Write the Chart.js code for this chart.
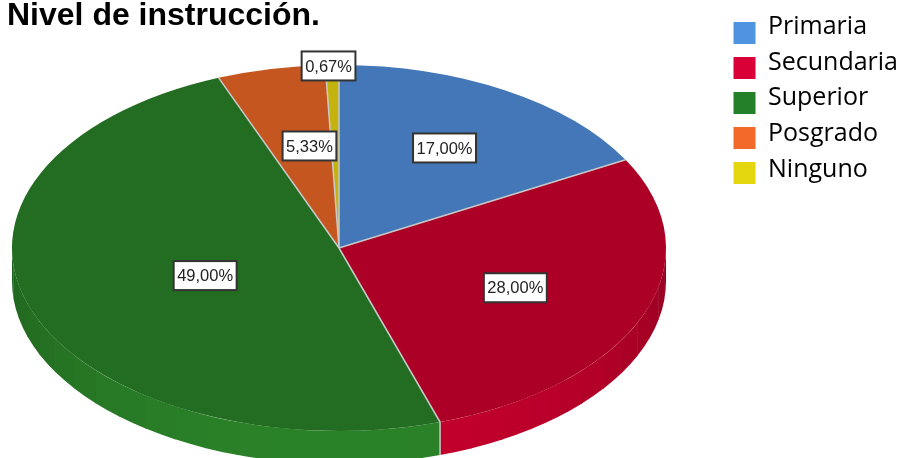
<!DOCTYPE html>
<html>
<head>
<meta charset="utf-8">
<style>
  html, body { margin: 0; padding: 0; background: #fff; overflow: hidden; }
  canvas { display: block; }
</style>
<script src="https://cdn.jsdelivr.net/npm/chart.js@4"></script>
</head>
<body>
<canvas id="myChart" width="902" height="458"></canvas>
<script>
const categories = ["Primaria", "Secundaria", "Superior", "Posgrado", "Ninguno"];
const percents = [17.00, 28.00, 49.00, 5.33, 0.67];
const valueLabels = ["17,00%", "28,00%", "49,00%", "5,33%", "0,67%"];

const topColors = ["#4477b8", "#ac0026", "#236d22", "#c55620", "#c4b30f"];
const wallColors = ["#4a82c8", "#c4002c", "#2a8228", "#d65f24", "#d0be10"];
const legendColors = ["#4f94e0", "#d80036", "#24812a", "#f2692a", "#e4d60f"];

// the pie is squashed into an ellipse, chart.js only knows circles
const pie = { x: 339, y: 248, rx: 327, ry: 183, depth: 33 };
// label distance from centre, as a share of the radius (x, y)
const labelPlaces = [[0.634, 0.635], [0.58, 0.59], [0.435, 0.445], [0.434, 0.57], [1.52, 0.995]];

function shade(hex, f) {
  const n = parseInt(hex.slice(1), 16);
  const r = Math.round((n >> 16 & 255) * f);
  const g = Math.round((n >> 8 & 255) * f);
  const b = Math.round((n & 255) * f);
  return "rgb(" + r + "," + g + "," + b + ")";
}

const tiltedPie = {
  id: "tiltedPie",
  beforeDatasetsDraw(chart) {
    const ctx = chart.ctx;
    const arcs = chart.getDatasetMeta(0).data;
    // side wall, cut in small facets like the original
    const step = Math.PI / 30;
    arcs.forEach((arc, i) => {
      const from = Math.max(arc.startAngle, 0);
      const to = Math.min(arc.endAngle, Math.PI);
      for (let a = from; a < to; a += step) {
        const b = Math.min(a + step, to);
        const mid = (a + b) / 2;
        ctx.fillStyle = shade(wallColors[i], 0.76 + 0.24 * Math.sin(mid));
        ctx.beginPath();
        // a little overlap so no seam shows between facets
        ctx.ellipse(pie.x, pie.y, pie.rx, pie.ry, 0, a, Math.min(b + 0.004, to));
        ctx.ellipse(pie.x, pie.y + pie.depth, pie.rx, pie.ry, 0, Math.min(b + 0.004, to), a, true);
        ctx.closePath();
        ctx.fill();
      }
    });
    const arc = arcs[0];
    ctx.save();
    ctx.translate(pie.x, pie.y);
    ctx.scale(pie.rx / arc.outerRadius, pie.ry / arc.outerRadius);
    ctx.translate(-arc.x, -arc.y);
  },
  afterDatasetsDraw(chart) {
    const ctx = chart.ctx;
    ctx.restore();
    const arcs = chart.getDatasetMeta(0).data;

    // light lines between the slices
    ctx.strokeStyle = "#c9c9c9";
    ctx.lineWidth = 1.5;
    arcs.forEach(arc => {
      const ex = pie.x + pie.rx * Math.cos(arc.startAngle);
      const ey = pie.y + pie.ry * Math.sin(arc.startAngle);
      ctx.beginPath();
      ctx.moveTo(pie.x, pie.y);
      ctx.lineTo(ex, ey);
      if (Math.sin(arc.startAngle) > 0) ctx.lineTo(ex, ey + pie.depth);
      ctx.stroke();
    });

    // value boxes
    ctx.font = "16.5px 'Liberation Sans'";
    ctx.textAlign = "center";
    ctx.textBaseline = "middle";
    arcs.forEach((arc, i) => {
      const mid = (arc.startAngle + arc.endAngle) / 2;
      const cx = pie.x + pie.rx * labelPlaces[i][0] * Math.cos(mid);
      const cy = pie.y + pie.ry * labelPlaces[i][1] * Math.sin(mid);
      const w = ctx.measureText(valueLabels[i]).width + 7;
      const h = 29;
      ctx.fillStyle = "#fff";
      ctx.strokeStyle = "#333";
      ctx.lineWidth = 2;
      ctx.fillRect(cx - w / 2, cy - h / 2, w, h);
      ctx.strokeRect(cx - w / 2, cy - h / 2, w, h);
      ctx.fillStyle = "#222";
      ctx.fillText(valueLabels[i], cx, cy + 1);
    });

    // legend swatches sit lower than their text in the original
    chart.legend.legendHitBoxes.forEach((box, i) => {
      ctx.fillStyle = legendColors[i];
      ctx.fillRect(box.left, 22 + i * 35, 22, 22);
    });
  }
};

new Chart("myChart", {
  type: "pie",
  data: {
    labels: categories,
    datasets: [{
      data: percents,
      backgroundColor: topColors,
      borderWidth: 0
    }]
  },
  plugins: [tiltedPie],
  options: {
    responsive: false,
    animation: false,
    layout: { padding: { left: 7, right: -6, top: 3.5 } },
    plugins: {
      tooltip: { enabled: false },
      title: {
        display: true,
        text: "Nivel de instrucción.",
        align: "start",
        fullSize: false,
        color: "#000",
        font: { family: "'Liberation Sans'", size: 32, weight: "bold" },
        padding: { top: -7, bottom: 6 }
      },
      legend: {
        position: "right",
        align: "start",
        labels: {
          boxWidth: 22,
          boxHeight: 0,
          padding: 10.75,
          color: "#000",
          font: { family: "'Open Sans'", size: 25 },
          generateLabels(chart) {
            return chart.data.labels.map((t, i) => ({
              text: t,
              fillStyle: "transparent",
              strokeStyle: "transparent",
              lineWidth: 0,
              index: i
            }));
          }
        }
      }
    }
  }
});
</script>
</body>
</html>
